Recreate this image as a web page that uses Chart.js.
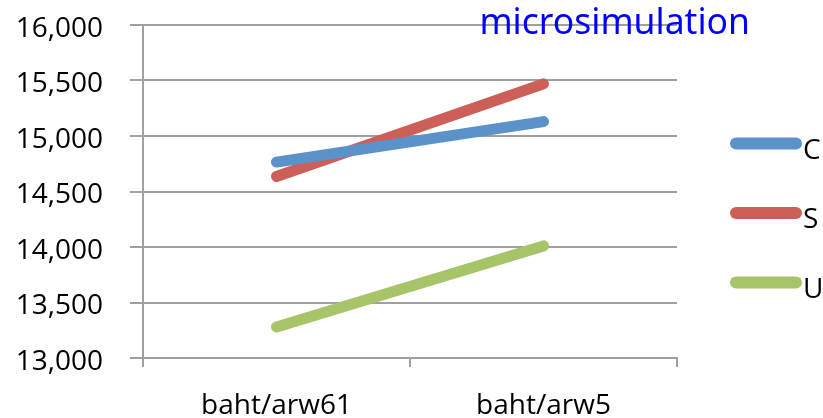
<!DOCTYPE html>
<html>
<head>
<meta charset="utf-8">
<script src="https://cdn.jsdelivr.net/npm/chart.js@4"></script>
<style>
  html, body { margin: 0; padding: 0; background: #fff; }
  #wrap { width: 823px; height: 418px; position: relative; }
</style>
</head>
<body>
<div id="wrap"><canvas id="chart" width="823" height="418"></canvas></div>
<script>
// Categories and series values
const categories = ['baht/arw61', 'baht/arw5'];
const seriesC = [14765, 15130];
const seriesS = [14635, 15470];
const seriesU = [13280, 14010];
const seriesNames = ['C', 'S', 'U'];
const seriesColors = ['#5b92c9', '#cc6058', '#a8c468'];
const yTicks = [13000, 13500, 14000, 14500, 15000, 15500, 16000];
const chartTitle = 'microsimulation';

const seriesValues = [seriesC, seriesS, seriesU];
const gridGray = '#a0a0a0';
const labelFont = 'Open Sans';

// Title written over the top of the plot, crossing the upper gridline
const titlePlugin = {
  id: 'overlayTitle',
  afterDraw(chart) {
    const { ctx, chartArea } = chart;
    ctx.save();
    ctx.font = '35.5px "Noto Sans"';
    ctx.fillStyle = '#0000ff';
    ctx.textAlign = 'right';
    ctx.textBaseline = 'alphabetic';
    ctx.fillText(chartTitle, chartArea.right + 73, chartArea.top + 9);
    ctx.restore();
  }
};

// Legend on the right: a thick rounded line sample followed by the series name
const lineLegendPlugin = {
  id: 'lineLegend',
  afterDraw(chart) {
    const { ctx, chartArea } = chart;
    const sets = chart.data.datasets;
    const spacing = 69.5;
    const midY = chart.height / 2 + 4;
    const x0 = chartArea.right + 53;
    const sampleW = 72;
    ctx.save();
    sets.forEach((ds, i) => {
      const yy = midY + (i - (sets.length - 1) / 2) * spacing;
      ctx.strokeStyle = ds.borderColor;
      ctx.lineWidth = 12;
      ctx.lineCap = 'round';
      ctx.beginPath();
      ctx.moveTo(x0 + 6, yy);
      ctx.lineTo(x0 + sampleW - 6, yy);
      ctx.stroke();
      ctx.fillStyle = '#000';
      ctx.font = '28px "' + labelFont + '"';
      ctx.textAlign = 'left';
      ctx.textBaseline = 'alphabetic';
      ctx.fillText(ds.label, x0 + sampleW + 1, yy + 15);
    });
    ctx.restore();
  }
};

new Chart(document.getElementById('chart'), {
  type: 'line',
  data: {
    labels: categories,
    datasets: seriesNames.map((name, i) => ({
      label: name,
      data: seriesValues[i],
      borderColor: seriesColors[i],
      backgroundColor: seriesColors[i],
      borderWidth: 11,
      borderCapStyle: 'round',
      pointRadius: 0,
      pointHoverRadius: 0,
      tension: 0,
      fill: false
    }))
  },
  options: {
    responsive: false,
    animation: false,
    events: [],
    layout: { padding: { left: -11.3, top: 25, right: 146, bottom: -26.6 } },
    plugins: {
      title: { display: false },
      legend: { display: false },
      tooltip: { enabled: false }
    },
    scales: {
      x: {
        type: 'category',
        offset: true,
        grid: {
          offset: true,
          drawOnChartArea: false,
          drawTicks: true,
          tickLength: 9,
          color: gridGray,
          lineWidth: 2
        },
        border: { display: true, color: gridGray, width: 2 },
        ticks: {
          color: '#000',
          padding: 22,
          font: { family: labelFont, size: 28 },
          maxRotation: 0
        }
      },
      y: {
        min: yTicks[0],
        max: yTicks[yTicks.length - 1],
        afterBuildTicks: (scale) => { scale.ticks = yTicks.map(v => ({ value: v })); },
        // the top of the plot is set by the layout padding alone
        afterFit: (scale) => { scale.paddingTop = 0; },
        grid: {
          color: gridGray,
          lineWidth: 2,
          tickLength: 13,
          drawTicks: true
        },
        border: { display: true, color: gridGray, width: 2 },
        ticks: {
          color: '#000',
          padding: 27,
          labelOffset: 4,
          font: { family: labelFont, size: 28 },
          callback: (v) => Number(v).toLocaleString('en-US')
        }
      }
    }
  },
  plugins: [titlePlugin, lineLegendPlugin]
});
</script>
</body>
</html>
